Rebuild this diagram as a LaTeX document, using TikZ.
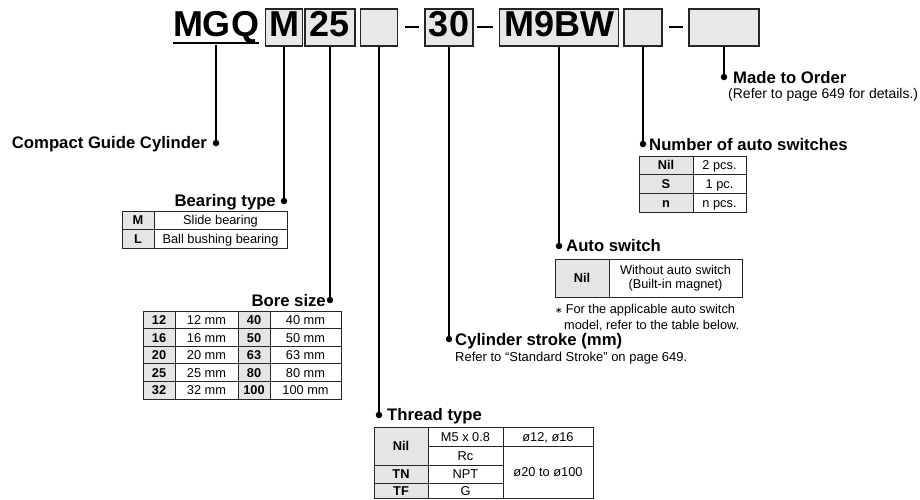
\documentclass[tikz,border=0pt]{standalone}
\usepackage{fontspec}
\setmainfont{Liberation Sans}
\newfontfamily\symfont{DejaVu Sans}
\tikzset{
  codebox/.style={draw=black!85, fill=black!9, line width=1.2pt, inner sep=0pt,
    minimum height=37pt, text height=25.8pt, text depth=7.4pt,
    font=\fontsize{36}{36}\selectfont\bfseries},
  lead/.style={line width=1.6pt},
  dot/.style={circle, fill=black, inner sep=0pt, minimum size=6.5pt},
  heading/.style={inner sep=0pt, font=\fontsize{16.7}{18}\selectfont\bfseries},
  remark/.style={inner sep=0pt, align=left, font=\fontsize{12.8}{16}\selectfont},
  tablecell/.style={draw=black!85, line width=0.9pt, inner sep=0pt},
  key/.style={tablecell, fill=black!10, text height=9.2pt, text depth=0pt,
    font=\fontsize{12.8}{14}\selectfont\bfseries},
  val/.style={tablecell, fill=white, text height=9.2pt, text depth=0pt,
    font=\fontsize{12.8}{14}\selectfont},
  valtwo/.style={tablecell, fill=white, align=center,
    font=\fontsize{12.8}{14.5}\selectfont},
  cell/.style 2 args={minimum width=#1pt, minimum height=#2pt},
}
\begin{document}
\begin{tikzpicture}[x=1pt, y=-1pt]
  \useasboundingbox (0,0) rectangle (920,499);

  % model code
  \node[anchor=base, inner sep=0pt, font=\fontsize{36}{36}\selectfont\bfseries] (mgq) at (216,36.7) {MGQ};
  \draw[line width=2pt] ([yshift=-6pt]mgq.base west) -- ([yshift=-6pt]mgq.base east);
  \node[codebox, minimum width=37pt] (bearing) at (284,27.5) {M};
  \node[codebox, minimum width=50pt] (bore) at (330,27.5) {25};
  \node[codebox, minimum width=37pt] (thread) at (379,27.5) {};
  \node[codebox, minimum width=48pt] (stroke) at (449,27.5) {30};
  \node[codebox, minimum width=119pt] (switch) at (559,27.5) {M9BW};
  \node[codebox, minimum width=38pt] (number) at (643,27.5) {};
  \node[codebox, minimum width=70pt] (order) at (724,27.5) {};
  \draw[line width=2.6pt] (405,27) -- (419,27);
  \draw[line width=2.6pt] (477,27) -- (493,27);
  \draw[line width=2.6pt] (669,27) -- (683,27);

  % leader dots
  \node[dot] (dmgq) at (216,143) {};
  \node[dot] (dbearing) at (284,201) {};
  \node[dot] (dbore) at (330,300) {};
  \node[dot] (dthread) at (379,415) {};
  \node[dot] (dstroke) at (449,339) {};
  \node[dot] (dswitch) at (559,246) {};
  \node[dot] (dnumber) at (643,144) {};
  \node[dot] (dorder) at (724,77) {};
  \draw[lead] ([yshift=-8pt]mgq.base) -- (dmgq);
  \draw[lead] (bearing.south) -- (dbearing);
  \draw[lead] (bore.south) -- (dbore);
  \draw[lead] (thread.south) -- (dthread);
  \draw[lead] (stroke.south) -- (dstroke);
  \draw[lead] (switch.south) -- (dswitch);
  \draw[lead] (number.south) -- (dnumber);
  \draw[lead] (order.south) -- (dorder);

  % headings
  \node[heading, anchor=base east] (tmgq) at (207,148) {Compact Guide Cylinder};
  \node[heading, anchor=base east] (tbearing) at (276,206) {Bearing type};
  \node[heading, anchor=base east] (tbore) at (326,306) {Bore size};
  \node[heading, anchor=base west] (tthread) at (387,420) {Thread type};
  \node[heading, anchor=base west] (tstroke) at (455,345) {Cylinder stroke (mm)};
  \node[remark, anchor=base west, font=\fontsize{13}{16}\selectfont] (rstroke) at (455,361) {Refer to “Standard Stroke” on page 649.};
  \node[heading, anchor=base west] (tswitch) at (566,251) {Auto switch};
  \node[heading, anchor=base west] (tnumber) at (649,150) {Number of auto switches};
  \node[heading, anchor=base west] (torder) at (733,83) {Made to Order};
  \node[remark, anchor=base west, font=\fontsize{14}{16}\selectfont] (rorder) at (728,98) {(Refer to page 649 for details.)};

  % bearing type
  \node[key, cell={32}{18}] (bt1) at (138,220) {M};
  \node[val, cell={133}{18}] (bt1v) at (220.5,220) {Slide bearing};
  \node[key, cell={32}{19}] (bt2) at (138,238.5) {L};
  \node[val, cell={133}{19}] (bt2v) at (220.5,238.5) {Ball bushing bearing};

  % bore size
  \node[key, cell={32}{17.6}] (bs12) at (159,319.8) {12};
  \node[val, cell={63}{17.6}] (bs12v) at (206.5,319.8) {12 mm};
  \node[key, cell={32}{17.6}] (bs40) at (254,319.8) {40};
  \node[val, cell={71}{17.6}] (bs40v) at (305.5,319.8) {40 mm};
  \node[key, cell={32}{17.6}] (bs16) at (159,337.4) {16};
  \node[val, cell={63}{17.6}] (bs16v) at (206.5,337.4) {16 mm};
  \node[key, cell={32}{17.6}] (bs50) at (254,337.4) {50};
  \node[val, cell={71}{17.6}] (bs50v) at (305.5,337.4) {50 mm};
  \node[key, cell={32}{17.6}] (bs20) at (159,355) {20};
  \node[val, cell={63}{17.6}] (bs20v) at (206.5,355) {20 mm};
  \node[key, cell={32}{17.6}] (bs63) at (254,355) {63};
  \node[val, cell={71}{17.6}] (bs63v) at (305.5,355) {63 mm};
  \node[key, cell={32}{17.6}] (bs25) at (159,372.6) {25};
  \node[val, cell={63}{17.6}] (bs25v) at (206.5,372.6) {25 mm};
  \node[key, cell={32}{17.6}] (bs80) at (254,372.6) {80};
  \node[val, cell={71}{17.6}] (bs80v) at (305.5,372.6) {80 mm};
  \node[key, cell={32}{17.6}] (bs32) at (159,390.2) {32};
  \node[val, cell={63}{17.6}] (bs32v) at (206.5,390.2) {32 mm};
  \node[key, cell={32}{17.6}] (bs100) at (254,390.2) {100};
  \node[val, cell={71}{17.6}] (bs100v) at (305.5,390.2) {100 mm};

  % thread type
  \node[key, cell={54}{38}] (ttnil) at (401,446) {Nil};
  \node[key, cell={54}{18}] (tttn) at (401,474) {TN};
  \node[key, cell={54}{15.5}] (tttf) at (401,490.75) {TF};
  \node[val, cell={75}{19}] (ttm5) at (465.5,436.5) {M5 x 0.8};
  \node[val, cell={75}{19}] (ttrc) at (465.5,455.5) {Rc};
  \node[val, cell={75}{18}] (ttnpt) at (465.5,474) {NPT};
  \node[val, cell={75}{15.5}] (ttg) at (465.5,490.75) {G};
  \node[val, cell={90}{19}] (ttsmall) at (548,436.5) {ø12, ø16};
  \node[val, cell={90}{52.5}] (ttlarge) at (548,472.25) {ø20 to ø100};

  % auto switch
  \node[key, cell={54}{38}] (asnil) at (582,278) {Nil};
  \node[valtwo, cell={133}{38}] (asnilv) at (675.5,278) {Without auto switch\\(Built-in magnet)};
  \node[remark, anchor=base west] (rswitch) at (555,329) {{\symfont\fontsize{9}{9}\selectfont ∗}\hspace{3pt}For the applicable auto switch\\\hspace*{9pt}model, refer to the table below.};

  % number of auto switches
  \node[key, cell={54}{18}] (nnil) at (666,165) {Nil};
  \node[val, cell={53}{18}] (nnilv) at (719.5,165) {2 pcs.};
  \node[key, cell={54}{19}] (ns) at (666,183.5) {S};
  \node[val, cell={53}{19}] (nsv) at (719.5,183.5) {1 pc.};
  \node[key, cell={54}{19}] (nn) at (666,202.5) {n};
  \node[val, cell={53}{19}] (nnv) at (719.5,202.5) {n pcs.};
\end{tikzpicture}
\end{document}
